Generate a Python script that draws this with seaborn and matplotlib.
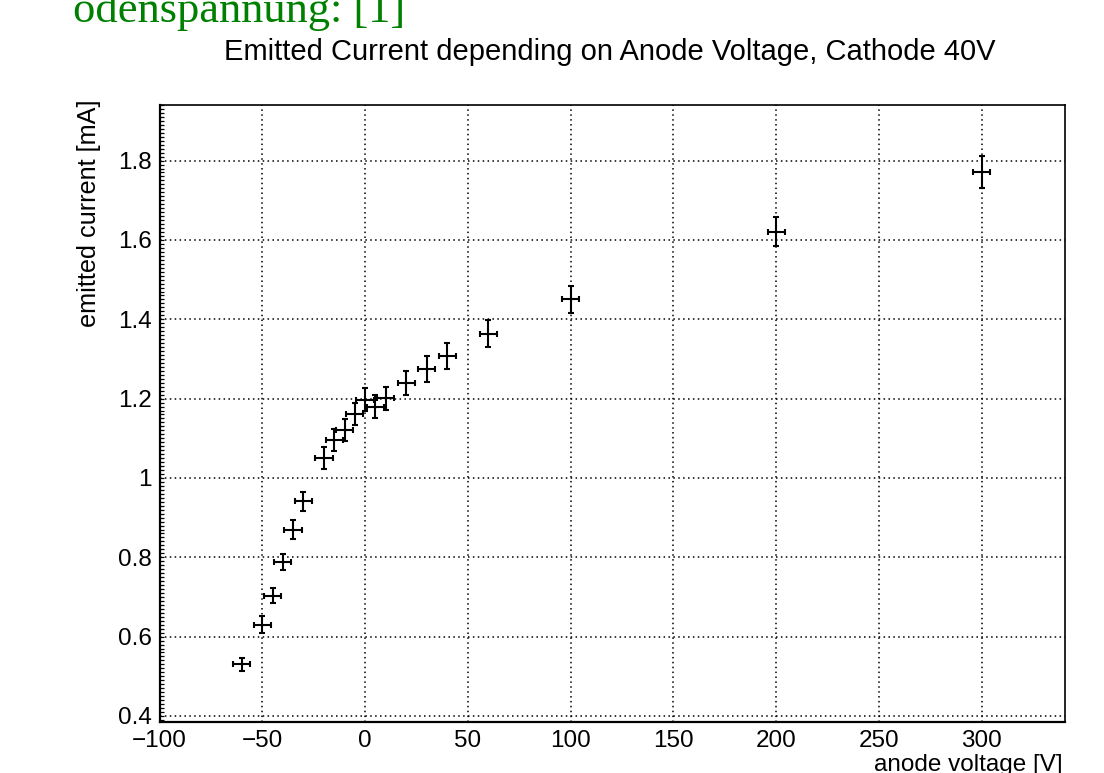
import numpy as np
import pandas as pd
import matplotlib
matplotlib.use("Agg")
import matplotlib.pyplot as plt
from matplotlib.ticker import MultipleLocator, FixedLocator
import seaborn as sns

# ---- data ----
anode_voltage = [-60, -50, -45, -40, -35, -30, -20, -15, -10, -5, 0, 5, 10, 20, 30, 40, 60, 100, 200, 300]
emitted_current = [0.530, 0.630, 0.703, 0.788, 0.870, 0.941, 1.050, 1.096, 1.120, 1.162, 1.197, 1.180,
                   1.201, 1.239, 1.275, 1.307, 1.364, 1.451, 1.621, 1.772]
voltage_err = [4.2, 4.2, 4.2, 4.2, 4.2, 4.2, 4.2, 4.2, 4.2, 4.2, 4.2, 4.2, 4.2, 4.2, 4.2, 4.2, 4.2, 4.2, 4.2, 4.2]
current_err = [0.016, 0.021, 0.019, 0.021, 0.024, 0.024, 0.027, 0.027, 0.028, 0.028, 0.029, 0.029,
               0.029, 0.031, 0.032, 0.032, 0.033, 0.034, 0.037, 0.040]
x_tick_values = [-100, -50, 0, 50, 100, 150, 200, 250, 300]
x_tick_labels = ["\u2212100", "\u221250", "0", "50", "100", "150", "200", "250", "300"]
y_tick_values = [0.4, 0.6, 0.8, 1.0, 1.2, 1.4, 1.6, 1.8]
y_tick_labels = ["0.4", "0.6", "0.8", "1", "1.2", "1.4", "1.6", "1.8"]

title = "Emitted Current depending on Anode Voltage, Cathode 40V"
x_label = "anode voltage [V]"
y_label = "emitted current [mA]"
slide_text = "odenspannung: [1]"

df = pd.DataFrame({"U": anode_voltage, "I": emitted_current,
                   "dU": voltage_err, "dI": current_err})

sns.set_theme(style="white")
plt.rcParams["font.family"] = ["Liberation Sans", "DejaVu Sans"]

fig = plt.figure(figsize=(11.04, 7.73), dpi=100)
ax = fig.add_axes([0.1445, 0.0666, 0.8205, 0.798])

ax.errorbar(df["U"], df["I"], xerr=df["dU"], yerr=df["dI"], fmt="none",
            ecolor="black", elinewidth=1.5, capsize=2.2, capthick=1.5, zorder=3)
sns.scatterplot(data=df, x="U", y="I", ax=ax, color="black", s=2, marker="o",
                edgecolor="black", linewidth=0, zorder=4, legend=False)

ax.set_xlim(-100, 340.7)
ax.set_ylim(0.386, 1.941)

ax.xaxis.set_major_locator(FixedLocator(x_tick_values))
ax.set_xticklabels(x_tick_labels)
ax.xaxis.set_minor_locator(MultipleLocator(10))
ax.yaxis.set_major_locator(FixedLocator(y_tick_values))
ax.set_yticklabels(y_tick_labels)
ax.yaxis.set_minor_locator(MultipleLocator(0.05))

ax.tick_params(axis="both", which="both", direction="in", color="black",
               top=False, right=False, labelsize=17.5, labelcolor="black")
ax.tick_params(axis="x", which="major", length=12.7, width=1.1, pad=6)
ax.tick_params(axis="x", which="minor", length=5.0, width=1.0)
ax.tick_params(axis="y", which="major", length=18.5, width=1.1, pad=5.5)
ax.tick_params(axis="y", which="minor", length=8.9, width=1.0)

sec = ax.secondary_yaxis("left")
sec.yaxis.set_major_locator(MultipleLocator(0.01))
sec.tick_params(direction="in", length=2.6, width=0.9, labelleft=False, color="black")
sec.spines["left"].set_visible(False)

ax.grid(True, which="major", color="black", linestyle=(0, (1, 2.2)), linewidth=1.1)
for s in ax.spines.values():
    s.set_color("black")
    s.set_linewidth(1.2)
ax.spines["left"].set_linewidth(1.6)
ax.spines["bottom"].set_linewidth(1.6)

ax.set_xlabel(x_label, fontsize=17.5, color="black")
ax.xaxis.set_label_coords(0.9975, -0.052)
ax.xaxis.label.set_horizontalalignment("right")
ax.set_ylabel(y_label, fontsize=18.2, color="black", loc="top")
ax.yaxis.set_label_coords(-0.065, 1.009)

fig.text(610 / 1104, 1 - 52 / 773, title, ha="center", va="center",
         fontsize=21, color="black")
fig.text(73 / 1104, 1 - 22 / 773, slide_text, ha="left", va="baseline",
         fontsize=32, color="#008000", family=["Liberation Serif", "DejaVu Serif"])

fig.savefig("out.png", dpi=100)
